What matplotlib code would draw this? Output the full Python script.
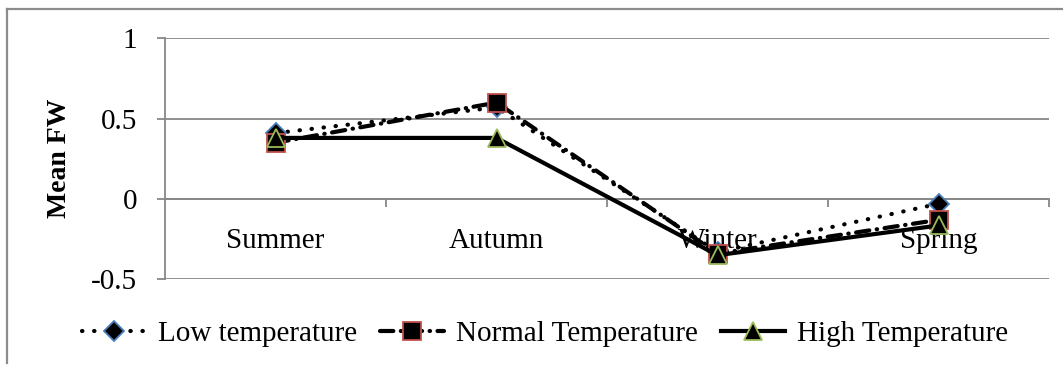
import matplotlib
matplotlib.use("Agg")
import matplotlib.pyplot as plt
from matplotlib.lines import Line2D

categories = ["Summer", "Autumn", "Winter", "Spring"]
low_temp = [0.41, 0.57, -0.33, -0.03]
normal_temp = [0.35, 0.60, -0.34, -0.13]
high_temp = [0.38, 0.38, -0.35, -0.165]
series_names = ["Low temperature", "Normal Temperature", "High Temperature"]
y_ticks = [-0.5, 0, 0.5, 1]

plt.rcParams['font.family'] = ['Liberation Serif', 'DejaVu Serif']

W, H = 1063, 366
fig = plt.figure(figsize=(W / 100, H / 100), dpi=100)
ax = fig.add_axes([165 / W, 1 - 279.3 / H, (1049 - 165) / W, (279.3 - 38.3) / H])

grid_c = "#878787"
x = list(range(1, len(categories) + 1))

ax.plot(x, low_temp, color="black", lw=3.0, linestyle=(0, (0.1, 2.8)),
        dash_capstyle="round", marker="D", markersize=10, markerfacecolor="black",
        markeredgecolor="#4a7ebb", markeredgewidth=1.3, label=series_names[0], zorder=3)
ax.plot(x, normal_temp, color="black", lw=3.0, linestyle=(0, (3.2, 1.8, 0.1, 1.8)),
        dash_capstyle="round", marker="s", markersize=12.5, markerfacecolor="black",
        markeredgecolor="#c0504d", markeredgewidth=1.3, label=series_names[1], zorder=4)
ax.plot(x, high_temp, color="black", lw=3.0, linestyle="-",
        marker="^", markersize=13, markerfacecolor="black",
        markeredgecolor="#9bbb59", markeredgewidth=1.3, label=series_names[2], zorder=5)

ax.set_xlim(0.5, len(categories) + 0.5)
ax.set_ylim(-0.5, 1)
ax.set_yticks(y_ticks)
ax.set_yticklabels(["-0.5", "0", "0.5", "1"], fontsize=21)
ax.yaxis.grid(True, color=grid_c, lw=1.3)
ax.set_axisbelow(True)

for s in ["top", "right"]:
    ax.spines[s].set_visible(False)
ax.spines["left"].set_color(grid_c)
ax.spines["left"].set_linewidth(1.3)
ax.spines["bottom"].set_position(("data", 0))
ax.spines["bottom"].set_color(grid_c)
ax.spines["bottom"].set_linewidth(1.3)

ax.set_xticks(x)
ax.set_xticklabels(categories, fontsize=21)
ax.set_xticks([1.5, 2.5, 3.5, 4.5], minor=True)
ax.tick_params(axis="x", which="major", length=0, pad=21)
ax.tick_params(axis="x", which="minor", length=6, width=1.3, color=grid_c, direction="out")
ax.tick_params(axis="y", length=6, width=1.3, color=grid_c, direction="out", pad=14)

ax.set_ylabel("Mean FW", fontsize=20, fontweight="bold", labelpad=14)

leg = fig.legend(loc="center", bbox_to_anchor=(545 / W, 1 - 334 / H), ncol=3,
                 frameon=False, fontsize=21, handlelength=2.2, handletextpad=0.4,
                 columnspacing=0.8, numpoints=1)

# outer chart border (top and left visible)
fig.add_artist(Line2D([7 / W, 1.0], [1 - 9 / H, 1 - 9 / H], color="#8c8c8c", lw=1.6,
                      transform=fig.transFigure))
fig.add_artist(Line2D([7 / W, 7 / W], [1 - 9 / H, 1 - 363 / H], color="#8c8c8c", lw=1.6,
                      transform=fig.transFigure))

fig.savefig("out.png", dpi=100)
